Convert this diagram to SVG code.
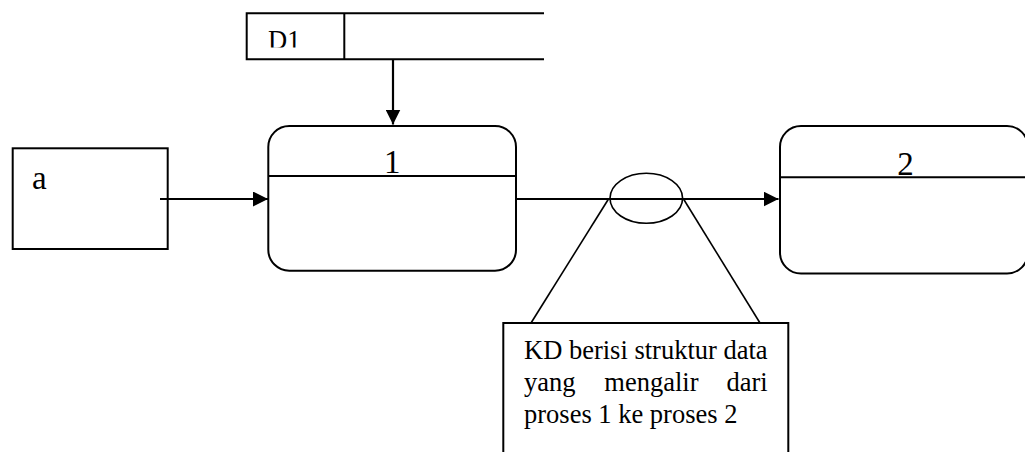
<svg xmlns="http://www.w3.org/2000/svg" width="1025" height="452" viewBox="0 0 1025 452">
  <style>
    .shape { fill: #ffffff; stroke: #000000; stroke-width: 2; }
    .line { fill: none; stroke: #000000; stroke-width: 2; }
    .thin { fill: none; stroke: #000000; stroke-width: 1.6; }
    .flow { fill: none; stroke: #000000; stroke-width: 2.2; }
    text { font-family: 'Liberation Serif', 'DejaVu Serif', 'Times New Roman', serif; fill: #000000; }
    .big { font-size: 33px; }
    .note { font-size: 26.5px; }
  </style>
  <defs>
    <marker id="arrow" viewBox="0 0 15 15" refX="15" refY="7.5" markerWidth="15" markerHeight="15" markerUnits="userSpaceOnUse" orient="auto">
      <path d="M0,0 L15,7.5 L0,15 Z" fill="#000000"/>
    </marker>
    <clipPath id="storeClip">
      <rect x="246" y="13" width="100" height="34.5"/>
    </clipPath>
  </defs>

  <rect width="1025" height="452" fill="#ffffff"/>

  <!-- data store D1 (open on the right) -->
  <g id="store-d1">
    <path class="line" d="M544,13.3 H246.7 V59.3 H544"/>
    <line class="line" x1="344.3" y1="13.3" x2="344.3" y2="59.3"/>
    <text class="note" font-family="Liberation Serif, serif" x="268" y="49" clip-path="url(#storeClip)">D1</text>
  </g>

  <!-- external entity a -->
  <g id="entity-a">
    <rect class="shape" x="12.7" y="148.3" width="155" height="100.7"/>
    <text class="big" font-family="Liberation Serif, serif" x="32" y="189">a</text>
  </g>

  <!-- process 1 -->
  <g id="process-1">
    <rect class="shape" x="268.3" y="126" width="247.7" height="144.7" rx="21" ry="21"/>
    <line class="line" x1="268.3" y1="176" x2="516" y2="176"/>
    <text class="big" font-family="Liberation Serif, serif" x="392.2" y="173.3" text-anchor="middle">1</text>
  </g>

  <!-- process 2 -->
  <g id="process-2">
    <rect class="shape" x="780" y="126" width="248" height="147.5" rx="21" ry="21"/>
    <line class="line" x1="780" y1="177.3" x2="1028" y2="177.3"/>
    <text class="big" font-family="Liberation Serif, serif" x="905.5" y="174.5" text-anchor="middle">2</text>
  </g>

  <!-- connectors -->
  <g id="connectors">
    <line class="flow" x1="393" y1="59.3" x2="393" y2="124.5" marker-end="url(#arrow)"/>
    <line class="flow" x1="160" y1="199" x2="268" y2="199" marker-end="url(#arrow)"/>
    <line class="flow" x1="516" y1="199" x2="778.5" y2="199" marker-end="url(#arrow)"/>
  </g>

  <!-- data flow callout -->
  <g id="callout-kd">
    <ellipse class="thin" cx="646.3" cy="198.3" rx="36.3" ry="25"/>
    <line class="thin" x1="608.5" y1="199" x2="531" y2="323"/>
    <line class="thin" x1="683.5" y1="199" x2="760" y2="323"/>
    <rect class="shape" x="503.3" y="323" width="285" height="140"/>
    <text class="note" font-family="Liberation Serif, serif" x="524" y="359.3">KD berisi struktur data</text>
    <text class="note" font-family="Liberation Serif, serif" x="524" y="391">yang</text>
    <text class="note" font-family="Liberation Serif, serif" x="604.3" y="391">mengalir</text>
    <text class="note" font-family="Liberation Serif, serif" x="767.7" y="391" text-anchor="end">dari</text>
    <text class="note" font-family="Liberation Serif, serif" x="524" y="422.7">proses 1 ke proses 2</text>
  </g>
</svg>
